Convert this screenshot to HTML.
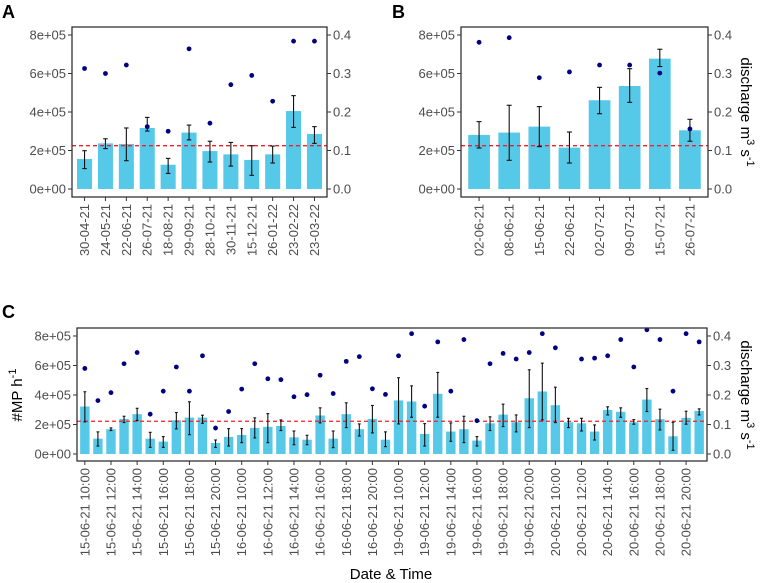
<!DOCTYPE html>
<html><head><meta charset="utf-8"><style>
body{margin:0;background:#fff;}
svg{display:block;font-family:"Liberation Sans",Arial,sans-serif;}
</style></head><body>
<svg id="chart" width="760" height="583" viewBox="0 0 760 583"></svg>
<script>
// Panel A data
const catsA=["30-04-21","24-05-21","22-06-21","26-07-21","18-08-21","29-09-21","28-10-21","30-11-21","15-12-21","26-01-22","23-02-22","23-03-22"];
const mpA=[1.56,2.37,2.34,3.17,1.26,2.93,1.97,1.80,1.51,1.80,4.05,2.86];
const hiA=[1.99,2.61,3.17,3.72,1.59,3.32,2.48,2.42,2.25,2.23,4.85,3.24];
const loA=[1.06,2.10,1.47,3.01,0.81,2.55,1.40,1.19,0.71,1.35,3.20,2.37];
const qA=[0.313,0.300,0.322,0.162,0.150,0.364,0.171,0.271,0.295,0.228,0.384,0.384];
// Panel B data
const catsB=["02-06-21","08-06-21","15-06-21","22-06-21","02-07-21","09-07-21","15-07-21","26-07-21"];
const mpB=[2.81,2.93,3.24,2.15,4.61,5.35,6.77,3.05];
const hiB=[3.50,4.35,4.28,2.96,5.28,6.25,7.26,3.62];
const loB=[2.13,1.49,2.20,1.35,3.91,4.50,6.36,2.48];
const qB=[0.381,0.393,0.289,0.304,0.322,0.322,0.301,0.156];
// Panel C data
const daysC=["15-06-21","16-06-21","19-06-21","20-06-21"];
const hoursC=["10:00","11:00","12:00","13:00","14:00","15:00","16:00","17:00","18:00","19:00","20:00","21:00"];
const mpC=[3.22,1.04,1.68,2.38,2.70,1.04,0.84,2.29,2.47,2.47,0.75,1.16,1.29,1.77,1.84,1.90,1.13,0.97,2.61,1.04,2.70,1.68,2.38,0.97,3.63,3.56,1.36,4.08,1.52,1.68,0.91,2.08,2.67,2.15,3.78,4.24,3.31,2.15,2.08,1.52,2.99,2.86,2.15,3.69,2.36,1.20,2.45,2.92];
const hiC=[4.22,1.50,1.77,2.56,3.10,1.47,1.18,2.81,3.54,2.63,0.95,1.72,1.72,2.45,2.74,2.31,1.56,1.27,3.13,1.56,3.47,2.04,3.29,1.50,5.17,4.62,2.06,5.53,2.11,2.56,1.18,2.52,3.38,2.65,5.71,6.16,4.53,2.42,2.42,1.97,3.20,3.13,2.33,4.44,3.04,2.15,2.90,3.06];
const loC=[2.18,0.54,1.59,2.13,2.27,0.45,0.45,1.70,1.31,2.08,0.45,0.54,0.77,1.09,0.77,1.59,0.63,0.63,2.11,0.43,1.79,1.22,1.43,0.50,2.04,2.49,0.54,2.49,0.86,0.77,0.54,1.59,1.86,1.50,1.79,2.31,2.13,1.79,1.56,0.95,2.65,2.49,2.02,2.88,1.63,0.25,2.02,2.65];
const qC=[0.290,0.181,0.208,0.306,0.344,0.135,0.213,0.295,0.213,0.333,0.088,0.144,0.220,0.306,0.255,0.252,0.194,0.201,0.267,0.205,0.314,0.330,0.221,0.202,0.333,0.408,0.162,0.380,0.213,0.388,0.113,0.306,0.341,0.322,0.344,0.408,0.360,null,0.322,0.325,0.333,0.388,0.295,0.421,0.388,0.213,0.408,0.380];
const meanLine=[2.25,2.25,2.22];
const yTicks=[0,2,4,6,8];
const yTickLabels=["0e+00","2e+05","4e+05","6e+05","8e+05"];
const qTickLabels=["0.0","0.1","0.2","0.3","0.4"];

const NS="http://www.w3.org/2000/svg";
const svg=document.getElementById('chart');
const FS=13;
function mk(tag,attrs,parent,text){const e=document.createElementNS(NS,tag);for(const k in attrs)e.setAttribute(k,attrs[k]);if(text!==undefined)e.textContent=text;(parent||svg).appendChild(e);return e;}

function panel(p){
  const g=mk('g',{});
  
  
  const n=p.cats.length;
  const unit=(p.right-p.left)/(n+0.2);
  const xc=i=>p.left+unit*(0.6+i);
  const y=v=>p.y0-(v/8)*(p.y0-p.y8);
  const yq=v=>y(v*20);
  const bw=unit*0.72;
  for(let i=0;i<n;i++){
    const b=mk('rect',{x:xc(i)-bw/2,y:y(p.mp[i]),width:bw,height:y(0)-y(p.mp[i]),fill:'#56c8e8'},g);
    
    
  }
  const ml=mk('line',{x1:p.left,x2:p.right,y1:y(p.mean),y2:y(p.mean),stroke:'#f0202a','stroke-width':1.3,'stroke-dasharray':'4,3'},g);
  
  
  const cw=Math.min(bw*0.3,5);
  for(let i=0;i<n;i++){
    const eg=mk('g',{stroke:'#111','stroke-width':1.1},g);
    
    
    mk('line',{x1:xc(i),x2:xc(i),y1:y(p.hi[i]),y2:y(p.lo[i])},eg);
    mk('line',{x1:xc(i)-cw/2,x2:xc(i)+cw/2,y1:y(p.hi[i]),y2:y(p.hi[i])},eg);
    mk('line',{x1:xc(i)-cw/2,x2:xc(i)+cw/2,y1:y(p.lo[i]),y2:y(p.lo[i])},eg);
  }
  for(let i=0;i<n;i++){
    if(p.q[i]===null)continue;
    const c=mk('circle',{cx:xc(i),cy:yq(p.q[i]),r:2.4,fill:'#000080'},g);
    
    
  }
  const fr=mk('rect',{x:p.left,y:p.top,width:p.right-p.left,height:p.bottom-p.top,fill:'none',stroke:'#333','stroke-width':1.3},g);
  
  
  for(let k=0;k<yTicks.length;k++){
    const yy=y(yTicks[k]);
    mk('line',{x1:p.left-4,x2:p.left,y1:yy,y2:yy,stroke:'#333'},g);
    const t=mk('text',{x:p.left-6,y:yy+4.5,'text-anchor':'end','font-size':FS,fill:'#4d4d4d'},g,yTickLabels[k]);
    
    
    mk('line',{x1:p.right,x2:p.right+4,y1:yq(k*0.1),y2:yq(k*0.1),stroke:'#333'},g);
    const t2=mk('text',{x:p.right+6,y:yq(k*0.1)+4.5,'font-size':FS,fill:'#4d4d4d'},g,qTickLabels[k]);
    
    
  }
  for(let i=0;i<n;i+=p.step){
    mk('line',{x1:xc(i),x2:xc(i),y1:p.bottom,y2:p.bottom+4,stroke:'#333'},g);
    const tx=xc(i)+4.5, ty=p.bottom+7;
    const t=mk('text',{x:tx,y:ty,'text-anchor':'end','font-size':FS,fill:'#4d4d4d',transform:`rotate(-90 ${tx} ${ty})`},g,p.cats[i]);
    
    
  }
}

panel({name:'panel-a',cats:catsA,mp:mpA,hi:hiA,lo:loA,q:qA,mean:meanLine[0],left:72,right:327,top:27,bottom:197,y0:189,y8:35,step:1});
panel({name:'panel-b',cats:catsB,mp:mpB,hi:hiB,lo:loB,q:qB,mean:meanLine[1],left:461,right:708,top:27,bottom:197,y0:189,y8:35,step:1});
const catsC=[];
for(const d of daysC)for(const h of hoursC)catsC.push(d+' '+h);
panel({name:'panel-c',cats:catsC,mp:mpC,hi:hiC,lo:loC,q:qC,mean:meanLine[2],left:77,right:707,top:328,bottom:461,y0:454,y8:336,step:2});

function label(txt,x,yy,name,attrs){const t=mk('text',Object.assign({x:x,y:yy},attrs||{}),svg,txt);return t;}
label('A',2,18,'panel-a-letter',{'font-size':18,'font-weight':'bold'});
label('B',392,18,'panel-b-letter',{'font-size':18,'font-weight':'bold'});
label('C',2,318,'panel-c-letter',{'font-size':18,'font-weight':'bold'});
label('Date & Time',391,579,'x-axis-title',{'font-size':15,'text-anchor':'middle'});

function title(html,x,yy,rot,name){
  const t=document.createElementNS(NS,'text');
  t.setAttribute('x',x);t.setAttribute('y',yy);t.setAttribute('font-size',15);t.setAttribute('text-anchor','middle');
  t.setAttribute('transform',`rotate(${rot} ${x} ${yy})`);
  t.innerHTML=html;
  
  
  svg.appendChild(t);
}
title('discharge m<tspan dy="-6" font-size="11">3</tspan><tspan dy="6"> s</tspan><tspan dy="-6" font-size="11">-1</tspan>',741,112,90,'right-axis-title-b');
title('discharge m<tspan dy="-6" font-size="11">3</tspan><tspan dy="6"> s</tspan><tspan dy="-6" font-size="11">-1</tspan>',741,395,90,'right-axis-title-c');
title('#MP h<tspan dy="-6" font-size="11">-1</tspan>',22,395,-90,'y-axis-title-c');
</script>
</body></html>
